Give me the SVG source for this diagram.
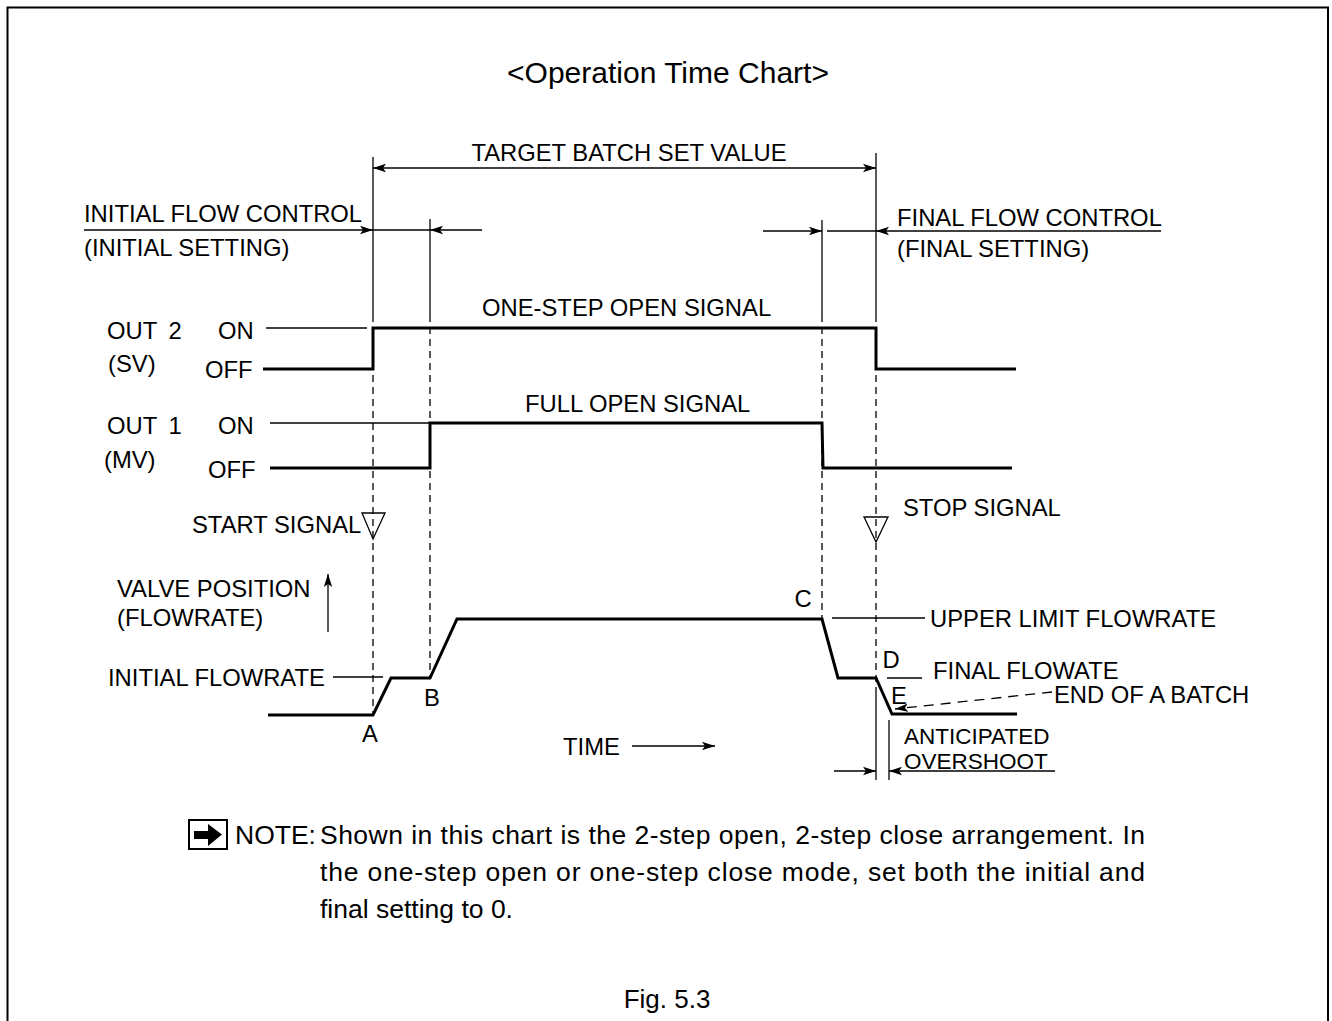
<svg xmlns="http://www.w3.org/2000/svg" width="1332" height="1021" viewBox="0 0 1332 1021">
<defs>
<marker id="ah" markerUnits="userSpaceOnUse" markerWidth="14" markerHeight="10" refX="13" refY="5" orient="auto-start-reverse"><path d="M0,0.8 L13,5 L0,9.2 L3,5 z" fill="#000"/></marker>
<style>
text{font-family:"Liberation Sans",Arial,sans-serif;font-size:23.8px;fill:#000}
.thin{stroke:#000;stroke-width:1.3;fill:none}
.thick{stroke:#000;stroke-width:3;fill:none}
.dash{stroke:#000;stroke-width:1.3;fill:none;stroke-dasharray:7 5}
.arr{marker-end:url(#ah)}
.mid{text-anchor:middle}
.note{font-size:26.5px}
</style>
</defs>
<rect width="1332" height="1021" fill="#fff"/>
<path d="M7.5,1021 V7.5 H1328 V1021" fill="none" stroke="#000" stroke-width="2"/>
<text class="mid" x="668" y="83" style="font-size:30px">&lt;Operation Time Chart&gt;</text>

<g id="connectors">
  <line class="thin" x1="373" y1="168" x2="876" y2="168" marker-start="url(#ah)" marker-end="url(#ah)"/>
  <line class="thin" x1="373" y1="157" x2="373" y2="315"/>
  <line class="thin" x1="430" y1="219" x2="430" y2="315"/>
  <line class="thin" x1="822" y1="220" x2="822" y2="315"/>
  <line class="thin" x1="876" y1="153" x2="876" y2="315"/>
  <line class="thin arr" x1="84" y1="230" x2="373" y2="230"/>
  <line class="thin" x1="373" y1="230" x2="430" y2="230"/>
  <line class="thin arr" x1="482" y1="230" x2="430" y2="230"/>
  <line class="thin arr" x1="763" y1="231" x2="822" y2="231"/>
  <line class="thin" x1="827" y1="231" x2="876" y2="231"/>
  <line class="thin arr" x1="1161" y1="231" x2="876" y2="231"/>
  <line class="dash" x1="373" y1="315" x2="373" y2="715"/>
  <line class="dash" x1="430" y1="315" x2="430" y2="678"/>
  <line class="dash" x1="822" y1="315" x2="822" y2="618"/>
  <line class="dash" x1="876" y1="315" x2="876" y2="688"/>
  <line class="thin" x1="876" y1="688" x2="876" y2="780"/>
  <line class="thin" x1="889" y1="720" x2="889" y2="780"/>
  <line class="thin arr" x1="834" y1="771" x2="876" y2="771"/>
  <line class="thin arr" x1="1055" y1="771" x2="889" y2="771"/>
  <line class="thin arr" x1="328" y1="632" x2="328" y2="574"/>
  <line class="thin arr" x1="632" y1="746" x2="715" y2="746"/>
  <line class="thin arr" x1="1052" y1="692" x2="895" y2="709" style="stroke-dasharray:10 7"/>
  <line class="thin" x1="333" y1="677" x2="383" y2="677"/>
  <line class="thin" x1="832" y1="618" x2="925" y2="618"/>
  <line class="thin" x1="887" y1="678" x2="922" y2="678"/>
</g>

<g id="signals">
  <line class="thin" x1="266" y1="328" x2="367" y2="328"/>
  <path class="thick" d="M263,369 H373 V328 H876 V369 H1016"/>
  <line class="thin" x1="270" y1="423" x2="430" y2="423"/>
  <path class="thick" d="M270,468 H430 V423 H822 L823,468 H1012"/>
  <path class="thick" d="M268,715 H373 L391,678 H430 L457,619 H822 L838,678 H876 L892,714 H1017"/>
  <polygon class="thin" points="362,513 385,513 373,539"/>
  <polygon class="thin" points="864,517 888,517 876,542"/>
</g>

<g id="labels">
  <text class="mid" x="629" y="161">TARGET BATCH SET VALUE</text>
  <text x="84" y="222">INITIAL FLOW CONTROL</text>
  <text x="84" y="256">(INITIAL SETTING)</text>
  <text x="897" y="226">FINAL FLOW CONTROL</text>
  <text x="897" y="257">(FINAL SETTING)</text>
  <text x="482" y="316">ONE-STEP OPEN SIGNAL</text>
  <text x="525" y="412">FULL OPEN SIGNAL</text>
  <text x="107" y="339">OUT <tspan dx="5">2</tspan></text>
  <text x="218" y="339">ON</text>
  <text x="108" y="372">(SV)</text>
  <text x="205" y="378">OFF</text>
  <text x="107" y="434">OUT <tspan dx="5">1</tspan></text>
  <text x="218" y="434">ON</text>
  <text x="104" y="468">(MV)</text>
  <text x="208" y="478">OFF</text>
  <text x="192" y="533">START SIGNAL</text>
  <text x="903" y="516">STOP SIGNAL</text>
  <text x="117" y="597">VALVE POSITION</text>
  <text x="117" y="626">(FLOWRATE)</text>
  <text x="108" y="686">INITIAL FLOWRATE</text>
  <text class="mid" x="370" y="742">A</text>
  <text class="mid" x="432" y="706">B</text>
  <text class="mid" x="803" y="607">C</text>
  <text class="mid" x="891" y="668">D</text>
  <text class="mid" x="899" y="704">E</text>
  <text x="930" y="627">UPPER LIMIT FLOWRATE</text>
  <text x="933" y="679">FINAL FLOWATE</text>
  <text x="1054" y="703">END OF A BATCH</text>
  <text x="904" y="744" style="font-size:22.5px">ANTICIPATED</text>
  <text x="904" y="769" style="font-size:22.5px">OVERSHOOT</text>
  <text x="563" y="755">TIME</text>
</g>

<g id="note">
  <rect x="189" y="820" width="38" height="29" fill="none" stroke="#000" stroke-width="2"/>
  <polygon points="194,831 208,831 208,824 222,834.5 208,846 208,839 194,839" fill="#000"/>
  <text class="note" x="235" y="844">NOTE:</text>
  <text class="note" x="320" y="844" textLength="825" lengthAdjust="spacing">Shown in this chart is the 2-step open, 2-step close arrangement. In</text>
  <text class="note" x="320" y="881" textLength="825" lengthAdjust="spacing">the one-step open or one-step close mode, set both the initial and</text>
  <text class="note" x="320" y="918">final setting to 0.</text>
</g>
<text class="mid" x="667" y="1008" style="font-size:26px">Fig. 5.3</text>
</svg>
